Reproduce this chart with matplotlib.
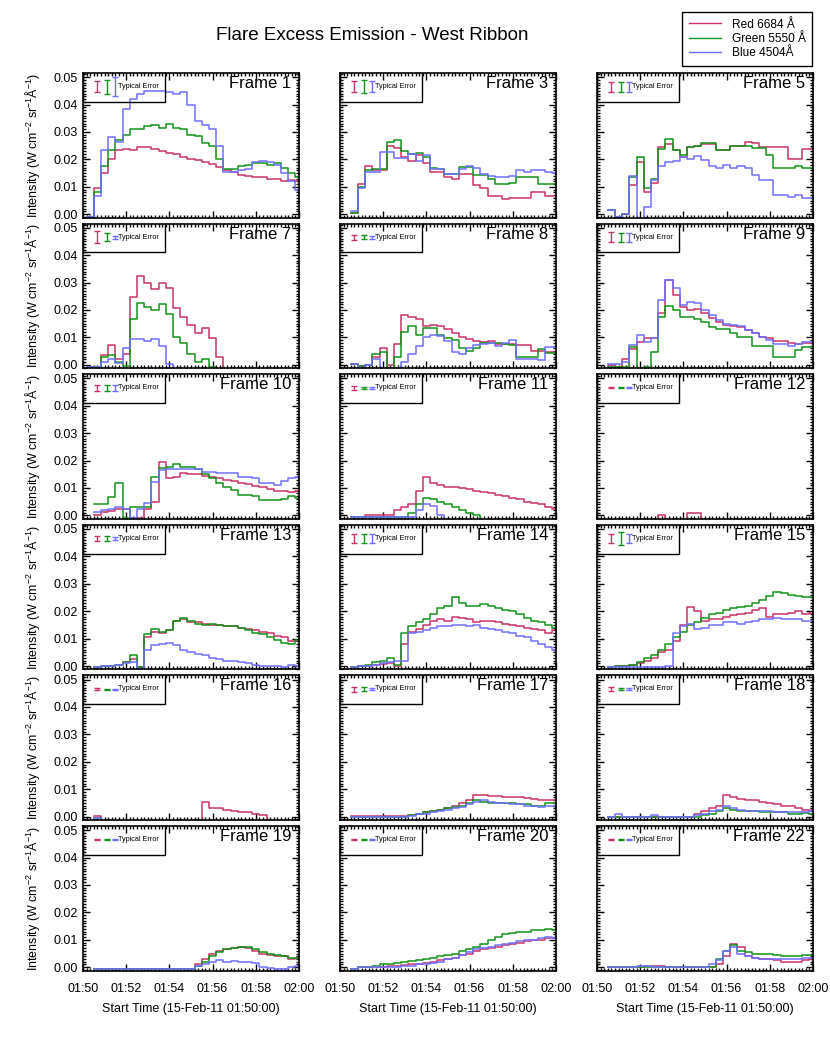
import numpy as np
import matplotlib
matplotlib.use('Agg')
import matplotlib.pyplot as plt
from matplotlib.patches import Rectangle
from matplotlib.lines import Line2D
from matplotlib.ticker import MultipleLocator, FixedLocator, FormatStrFormatter

plt.rcParams['font.family'] = ['Liberation Sans', 'DejaVu Sans']
plt.rcParams['mathtext.default'] = 'regular'

N = np.nan

# ---------------- data (intensity per 20-s bin, W cm^-2 sr^-1 A^-1) ----------------
F1_RED = [-0.001, 0.0095, 0.015, 0.020, 0.0234, 0.0237, 0.0234, 0.0244, 0.0244, 0.0237, 0.0232, 0.0224, 0.0218, 0.021, 0.020, 0.0198, 0.019, 0.0183, 0.0173, 0.0163, 0.0155, 0.0143, 0.014, 0.0134, 0.0137, 0.013, 0.0128, 0.012, 0.0125, 0.012]
F1_GREEN = [-0.001, 0.0082, 0.0175, 0.0235, 0.027, 0.029, 0.031, 0.031, 0.032, 0.0325, 0.0315, 0.033, 0.0315, 0.031, 0.029, 0.0285, 0.026, 0.025, 0.020, 0.0165, 0.0165, 0.0175, 0.018, 0.0185, 0.0185, 0.018, 0.0185, 0.017, 0.015, 0.0135]
F1_BLUE = [-0.001, 0.0065, 0.0235, 0.028, 0.0265, 0.0385, 0.042, 0.044, 0.045, 0.045, 0.045, 0.0445, 0.044, 0.0445, 0.040, 0.034, 0.0325, 0.031, 0.025, 0.0155, 0.0155, 0.016, 0.0165, 0.019, 0.0195, 0.019, 0.018, 0.015, 0.012, 0.009]

F3_RED = [N, 0.0005, 0.011, 0.0175, 0.016, 0.016, 0.025, 0.024, 0.021, 0.0195, 0.0215, 0.0185, 0.0155, 0.0155, 0.0137, 0.013, 0.0145, 0.0145, 0.0105, 0.0095, 0.0068, 0.0066, 0.0055, 0.006, 0.006, 0.006, 0.0082, 0.0082, 0.0065, 0.0065]
F3_GREEN = [N, 0.0005, 0.010, 0.016, 0.0165, 0.0165, 0.0265, 0.027, 0.023, 0.022, 0.0225, 0.021, 0.0167, 0.0165, 0.0145, 0.0145, 0.0173, 0.0173, 0.0143, 0.0143, 0.013, 0.011, 0.011, 0.0115, 0.0134, 0.0134, 0.0134, 0.0112, 0.0112, 0.0112]
F3_BLUE = [N, 0.001, 0.0095, 0.0155, 0.0155, 0.0228, 0.0228, 0.0205, 0.0205, 0.022, 0.0195, 0.0215, 0.0165, 0.0165, 0.0145, 0.0145, 0.0165, 0.0175, 0.0168, 0.0145, 0.014, 0.0135, 0.0135, 0.014, 0.016, 0.0155, 0.016, 0.016, 0.0155, 0.015]

F5_RED = [N, 0.0017, -0.001, 0.0, 0.0105, 0.019, 0.008, 0.0115, 0.0245, 0.0255, 0.0235, 0.021, 0.0245, 0.025, 0.0255, 0.0255, 0.0235, 0.0235, 0.025, 0.025, 0.0265, 0.0258, 0.0245, 0.0245, 0.0245, 0.0245, 0.020, 0.020, 0.0237, 0.0237]
F5_GREEN = [N, 0.0017, -0.001, 0.0, 0.0137, 0.021, 0.0095, 0.0127, 0.0237, 0.0275, 0.0234, 0.0216, 0.0244, 0.025, 0.026, 0.026, 0.0235, 0.0235, 0.025, 0.025, 0.025, 0.0242, 0.0242, 0.0216, 0.017, 0.017, 0.0168, 0.0175, 0.017, 0.017]
F5_BLUE = [N, 0.0015, -0.001, 0.0, 0.014, -0.003, 0.0027, 0.0125, 0.0176, 0.019, 0.0195, 0.0207, 0.020, 0.0212, 0.0197, 0.0176, 0.017, 0.018, 0.017, 0.0176, 0.0167, 0.0143, 0.0124, 0.0124, 0.007, 0.007, 0.0063, 0.007, 0.0058, 0.0058]

F7_RED = [-0.0008, -0.0008, 0.0035, 0.0074, 0.0023, 0.004, 0.0246, 0.0325, 0.030, 0.0275, 0.030, 0.028, 0.0206, 0.0173, 0.0145, 0.0115, 0.0133, 0.0096, 0.003] + [-0.01] * 11
F7_GREEN = [-0.0008, -0.0008, 0.003, 0.0036, 0.001, -0.0005, 0.0167, 0.0224, 0.021, 0.020, 0.022, 0.0184, 0.0102, 0.0078, 0.0041, 0.001, 0.0023, -0.0007] + [-0.01] * 12
F7_BLUE = [-0.0008, -0.0008, 0.001, 0.0023, 0.0005, 0.006, 0.0093, 0.0093, 0.0088, 0.0093, 0.0068, 0.0002] + [-0.01] * 18

F8_RED = [N, 0.0003, -0.0005, 0.0, 0.003, 0.006, 0.0, 0.0075, 0.018, 0.0175, 0.0167, 0.014, 0.0147, 0.014, 0.013, 0.0115, 0.010, 0.0093, 0.0088, 0.0085, 0.0088, 0.0075, 0.0075, 0.0075, 0.0072, 0.0072, 0.0051, 0.0051, 0.0045, 0.0045]
F8_GREEN = [N, 0.0003, -0.0005, 0.0, 0.0041, 0.0048, -0.001, 0.0027, 0.012, 0.014, 0.011, 0.0133, 0.0133, 0.011, 0.0096, 0.0092, 0.0063, 0.0051, 0.006, 0.008, 0.008, 0.0078, 0.0075, 0.0072, 0.0027, 0.0027, 0.0027, 0.0056, 0.0044, 0.0044]
F8_BLUE = [N, 0.0003, -0.002, 0.0, 0.002, -0.002, -0.002, -0.001, 0.001, 0.004, 0.007, 0.010, 0.011, 0.0105, 0.0088, 0.0048, 0.004, 0.006, 0.0072, 0.0075, 0.008, 0.0068, 0.008, 0.009, 0.0023, 0.0023, 0.0023, 0.0017, 0.0066, 0.0066]

F9_RED = [N, 0.0, -0.0008, 0.002, 0.0056, 0.0084, 0.0096, 0.0096, 0.0188, 0.031, 0.0255, 0.021, 0.020, 0.0205, 0.0188, 0.017, 0.0157, 0.0145, 0.0143, 0.0137, 0.0127, 0.0115, 0.0102, 0.0098, 0.0088, 0.0088, 0.008, 0.0076, 0.0078, 0.008]
F9_GREEN = [N, -0.0008, -0.0008, -0.0008, 0.0066, -0.005, -0.0008, 0.0048, 0.0176, 0.0215, 0.020, 0.0176, 0.0176, 0.0166, 0.0157, 0.0137, 0.013, 0.013, 0.0115, 0.0102, 0.0102, 0.0068, 0.0068, 0.0068, 0.0027, 0.0027, 0.0027, 0.0054, 0.0066, 0.0066]
F9_BLUE = [N, 0.0003, 0.0003, 0.001, 0.0072, 0.011, 0.0084, 0.0096, 0.0237, 0.031, 0.028, 0.0218, 0.023, 0.0225, 0.020, 0.018, 0.0163, 0.0149, 0.0145, 0.014, 0.0128, 0.0115, 0.0102, 0.009, 0.0076, 0.0076, 0.0068, 0.0076, 0.0084, 0.0084]

F10_RED = [N, 0.0003, 0.0013, 0.0017, 0.0022, 0.0025, -0.0008, -0.0008, 0.0025, 0.005, 0.0196, 0.0135, 0.014, 0.0154, 0.015, 0.015, 0.0145, 0.014, 0.0135, 0.013, 0.0125, 0.012, 0.0115, 0.0108, 0.0102, 0.0098, 0.0088, 0.0088, 0.0085, 0.009]
F10_GREEN = [N, 0.004, 0.004, 0.0068, 0.0117, -0.0008, 0.0032, 0.003, 0.0032, 0.0139, 0.0172, 0.0175, 0.0187, 0.0175, 0.0178, 0.0168, 0.015, 0.0135, 0.012, 0.0105, 0.0093, 0.0074, 0.0074, 0.0072, 0.0056, 0.0056, 0.0056, 0.006, 0.007, 0.0065]
F10_BLUE = [N, 0.0013, 0.002, 0.0022, 0.0032, 0.0022, -0.0008, 0.0022, 0.0044, 0.0123, 0.0166, 0.0168, 0.0168, 0.017, 0.017, 0.017, 0.016, 0.016, 0.0154, 0.0154, 0.0154, 0.0141, 0.0141, 0.0138, 0.0117, 0.0117, 0.0112, 0.0125, 0.0135, 0.014]

F11_RED = [N, -0.0005, -0.0005, 0.0, 0.0, 0.0, 0.0, 0.002, 0.003, 0.004, 0.009, 0.014, 0.012, 0.011, 0.0105, 0.0105, 0.010, 0.0095, 0.009, 0.0085, 0.008, 0.0075, 0.007, 0.0065, 0.006, 0.005, 0.0045, 0.004, 0.003, 0.0025]
F11_GREEN = [N] + [-0.0005] * 8 + [0.001, 0.004, 0.0065, 0.006, 0.005, 0.004, 0.003, 0.002, 0.001, 0.0] + [-0.01] * 11
F11_BLUE = [N] + [-0.0005] * 9 + [0.002, 0.004, 0.0035, 0.0] + [-0.01] * 16

F12_RED = [N] + [-0.003] * 7 + [0.0003] + [-0.003] * 3 + [0.0008, 0.0008] + [-0.003] * 16
F12_GREEN = [N] + [-0.003] * 29
F12_BLUE = [N] + [-0.003] * 29

F13_RED = [N, -0.0005, 0.0, 0.0, 0.0005, 0.0015, 0.0025, -0.0005, 0.0105, 0.0125, 0.012, 0.013, 0.0165, 0.017, 0.016, 0.016, 0.0155, 0.015, 0.015, 0.0145, 0.0145, 0.014, 0.0135, 0.013, 0.0125, 0.012, 0.011, 0.0105, 0.009, 0.009]
F13_GREEN = [N, -0.0005, 0.0, 0.0, 0.0005, 0.0015, 0.004, -0.0005, 0.0115, 0.0135, 0.0125, 0.013, 0.0165, 0.0175, 0.0165, 0.0155, 0.015, 0.0155, 0.015, 0.0145, 0.0145, 0.014, 0.013, 0.012, 0.0115, 0.0105, 0.0095, 0.0085, 0.008, 0.0095]
F13_BLUE = [N, -0.0005, 0.0, 0.0, 0.0003, 0.001, 0.0015, -0.001, 0.006, 0.0075, 0.008, 0.0085, 0.0075, 0.006, 0.005, 0.0045, 0.004, 0.003, 0.0025, 0.002, 0.002, 0.0015, 0.001, 0.0005, 0.0, 0.0, 0.0, -0.0005, 0.0005, 0.0]

F14_RED = [N, -0.0005, 0.0, 0.0, 0.0005, 0.0008, 0.001, 0.0, 0.008, 0.0125, 0.0135, 0.015, 0.0165, 0.017, 0.0165, 0.018, 0.0175, 0.017, 0.016, 0.0165, 0.0165, 0.016, 0.0155, 0.015, 0.0145, 0.014, 0.0135, 0.013, 0.012, 0.013]
F14_GREEN = [N, -0.0005, 0.0, 0.0005, 0.0015, 0.002, 0.003, 0.0005, 0.012, 0.0145, 0.016, 0.017, 0.019, 0.021, 0.022, 0.025, 0.023, 0.022, 0.022, 0.0225, 0.022, 0.021, 0.0205, 0.020, 0.019, 0.0175, 0.0165, 0.016, 0.015, 0.014]
F14_BLUE = [N, -0.0005, 0.0, 0.0, 0.0005, 0.001, 0.0015, 0.002, 0.002, 0.012, 0.0125, 0.013, 0.014, 0.0145, 0.0145, 0.015, 0.015, 0.0145, 0.015, 0.014, 0.0135, 0.013, 0.0125, 0.012, 0.011, 0.0105, 0.009, 0.008, 0.007, 0.006]

F15_RED = [N, -0.0005, 0.0, 0.0, 0.0003, 0.001, 0.002, 0.003, 0.005, 0.006, 0.009, 0.015, 0.0215, 0.020, 0.0165, 0.017, 0.017, 0.018, 0.0185, 0.019, 0.0195, 0.0205, 0.021, 0.018, 0.019, 0.019, 0.0195, 0.020, 0.019, 0.0195]
F15_GREEN = [N, -0.0005, 0.0, 0.0, 0.0005, 0.0015, 0.003, 0.004, 0.006, 0.008, 0.0105, 0.0125, 0.015, 0.016, 0.0175, 0.019, 0.0195, 0.0205, 0.021, 0.0215, 0.022, 0.023, 0.024, 0.0255, 0.027, 0.0265, 0.026, 0.0255, 0.025, 0.025]
F15_BLUE = [N] + [-0.0005] * 8 + [0.0, 0.012, 0.0145, 0.0155, 0.0135, 0.014, 0.015, 0.015, 0.016, 0.016, 0.0155, 0.016, 0.0165, 0.017, 0.017, 0.0175, 0.017, 0.017, 0.017, 0.0165, 0.0165]

F16_RED = [N, 0.0003] + [-0.003] * 14 + [0.0055, 0.003, 0.003, 0.0025, 0.002, 0.0018, 0.0015, 0.001, 0.0005] + [-0.003] * 5
F16_GREEN = [N, -0.0005] + [-0.003] * 28
F16_BLUE = [N, -0.0005] + [-0.003] * 28

F17_RED = [N] + [0.0002] * 8 + [0.0005, 0.001, 0.0015, 0.002, 0.0025, 0.003, 0.004, 0.005, 0.006, 0.008, 0.0078, 0.0075, 0.0075, 0.007, 0.007, 0.007, 0.0068, 0.0065, 0.006, 0.0062, 0.0062]
F17_GREEN = [N] + [0.0] * 8 + [0.0005, 0.001, 0.0015, 0.002, 0.0025, 0.003, 0.0035, 0.004, 0.005, 0.006, 0.0055, 0.005, 0.005, 0.005, 0.005, 0.0045, 0.0045, 0.004, 0.004, 0.0048, 0.005]
F17_BLUE = [N] + [-0.0002] * 8 + [0.0003, 0.0008, 0.001, 0.0015, 0.002, 0.0025, 0.003, 0.0035, 0.0045, 0.0055, 0.006, 0.0055, 0.005, 0.005, 0.0045, 0.0045, 0.004, 0.004, 0.0035, 0.004, 0.004]

F18_RED = [N] + [-0.0003] * 12 + [0.001, 0.002, 0.003, 0.004, 0.008, 0.007, 0.0065, 0.006, 0.006, 0.0055, 0.005, 0.0045, 0.004, 0.004, 0.003, 0.0025, 0.0025]
F18_GREEN = [N] + [0.0] * 13 + [0.0005, 0.001, 0.002, 0.003, 0.0025, 0.002, 0.002, 0.002, 0.0018, 0.0015, 0.0015, 0.0015, 0.001, 0.001, 0.0012, 0.001]
F18_BLUE = [N, 0.0, 0.001, 0.0, 0.0, 0.0, 0.0, 0.0005, 0.0, 0.0, 0.0, 0.0, 0.0, 0.0005, 0.001, 0.002, 0.0025, 0.004, 0.003, 0.0025, 0.002, 0.002, 0.002, 0.002, 0.0018, 0.0015, 0.0015, 0.0015, 0.0018, 0.002]

F19_RED = [N] + [-0.0005] * 14 + [0.001, 0.003, 0.005, 0.006, 0.0065, 0.007, 0.0072, 0.007, 0.006, 0.005, 0.0045, 0.004, 0.004, 0.003, 0.0035]
F19_GREEN = [N] + [-0.0005] * 14 + [0.0005, 0.002, 0.004, 0.0055, 0.0065, 0.007, 0.0075, 0.0075, 0.0065, 0.0055, 0.005, 0.0045, 0.004, 0.0035, 0.0035]
F19_BLUE = [N] + [-0.0005] * 14 + [0.0005, 0.001, 0.002, 0.0025, 0.002, 0.0022, 0.002, 0.002, 0.0015, 0.0, -0.0003, -0.0005, -0.0005, 0.0, 0.0005]

F20_RED = [N, -0.0005, 0.0, 0.0, 0.0, 0.0, 0.0003, 0.0005, 0.0008, 0.001, 0.0012, 0.0015, 0.002, 0.0025, 0.003, 0.0035, 0.0045, 0.005, 0.006, 0.0065, 0.007, 0.0075, 0.008, 0.0085, 0.009, 0.0095, 0.010, 0.010, 0.0105, 0.0105]
F20_GREEN = [N, -0.0005, 0.0, 0.0, 0.0005, 0.001, 0.0012, 0.0015, 0.002, 0.0022, 0.0025, 0.003, 0.0035, 0.004, 0.0045, 0.005, 0.006, 0.0065, 0.0075, 0.0085, 0.010, 0.011, 0.012, 0.0125, 0.013, 0.013, 0.0135, 0.0135, 0.014, 0.0135]
F20_BLUE = [N, -0.0005, 0.0, 0.0, 0.0, 0.0, 0.0, 0.0, 0.0003, 0.0005, 0.001, 0.0012, 0.0015, 0.002, 0.003, 0.0035, 0.0045, 0.0055, 0.0065, 0.007, 0.0075, 0.008, 0.0085, 0.009, 0.0095, 0.010, 0.010, 0.0105, 0.011, 0.0105]

F22_RED = [N, 0.0, 0.0, 0.0, 0.0, 0.0, 0.0005, 0.0005, 0.0005, 0.0, 0.0, 0.0, 0.0, 0.0, 0.0, 0.0, 0.001, 0.004, 0.0085, 0.0075, 0.004, 0.0035, 0.003, 0.003, 0.0025, 0.002, 0.002, 0.002, 0.0025, 0.003]
F22_GREEN = [N] + [0.0] * 15 + [0.003, 0.006, 0.008, 0.006, 0.0055, 0.005, 0.005, 0.005, 0.0045, 0.004, 0.004, 0.004, 0.0045, 0.0045]
F22_BLUE = [N, 0.0, 0.0, 0.0, 0.0, 0.0005, 0.0005, 0.0, 0.0, 0.0, 0.0, 0.0, 0.0, 0.0, 0.0, 0.001, 0.0025, 0.006, 0.0075, 0.005, 0.004, 0.0035, 0.003, 0.003, 0.003, 0.003, 0.003, 0.003, 0.0035, 0.0035]

FRAME_NAMES = ['Frame 1', 'Frame 3', 'Frame 5', 'Frame 7', 'Frame 8', 'Frame 9',
               'Frame 10', 'Frame 11', 'Frame 12', 'Frame 13', 'Frame 14', 'Frame 15',
               'Frame 16', 'Frame 17', 'Frame 18', 'Frame 19', 'Frame 20', 'Frame 22']

# typical error (half-length) per frame
ERR_RED = [0.0021, 0.0021, 0.0018, 0.0022, 0.0009, 0.0018, 0.001, 0.0007, 0.0002,
           0.001, 0.0015, 0.0018, 0.0003, 0.0009, 0.0007, 0.0002, 0.0002, 0.0002]
ERR_GREEN = [0.0026, 0.0023, 0.0018, 0.0015, 0.0007, 0.0016, 0.001, 0.0003, 0.0002,
             0.0009, 0.0015, 0.0022, 0.0002, 0.0006, 0.0003, 0.0002, 0.0002, 0.0002]
ERR_BLUE = [0.0034, 0.0021, 0.0018, 0.0006, 0.0006, 0.0016, 0.001, 0.0003, 0.0002,
            0.0007, 0.0015, 0.0018, 0.0002, 0.0005, 0.0003, 0.0002, 0.0002, 0.0002]

XTICK_POS = [0, 2, 4, 6, 8, 10]
XTICK_LABELS = ['01:50', '01:52', '01:54', '01:56', '01:58', '02:00']
LEGEND_LABELS = ['Red 6684 \u00c5', 'Green 5550 \u00c5', 'Blue 4504\u00c5']
BIN_START = 1 / 6      # minutes after 01:50:00
BIN_WIDTH = 1 / 3      # 20 s

RED = '#cc3366'
GREEN = '#12931a'
BLUE = '#6f6fff'

SERIES = [
    (F1_RED, F1_GREEN, F1_BLUE), (F3_RED, F3_GREEN, F3_BLUE), (F5_RED, F5_GREEN, F5_BLUE),
    (F7_RED, F7_GREEN, F7_BLUE), (F8_RED, F8_GREEN, F8_BLUE), (F9_RED, F9_GREEN, F9_BLUE),
    (F10_RED, F10_GREEN, F10_BLUE), (F11_RED, F11_GREEN, F11_BLUE), (F12_RED, F12_GREEN, F12_BLUE),
    (F13_RED, F13_GREEN, F13_BLUE), (F14_RED, F14_GREEN, F14_BLUE), (F15_RED, F15_GREEN, F15_BLUE),
    (F16_RED, F16_GREEN, F16_BLUE), (F17_RED, F17_GREEN, F17_BLUE), (F18_RED, F18_GREEN, F18_BLUE),
    (F19_RED, F19_GREEN, F19_BLUE), (F20_RED, F20_GREEN, F20_BLUE), (F22_RED, F22_GREEN, F22_BLUE),
]

# ---------------- figure ----------------
W, H = 830, 1038
fig = plt.figure(figsize=(W / 100, H / 100), dpi=100)
col_left = [83, 340, 597]
row_top = [73, 223.6, 374.2, 524.8, 675.4, 826]
aw, ah = 216, 144.5

nbins = len(F1_RED)
edges = BIN_START + BIN_WIDTH * np.arange(nbins + 1)

for i, name in enumerate(FRAME_NAMES):
    row, col = divmod(i, 3)
    ax = fig.add_axes([col_left[col] / W, 1 - (row_top[row] + ah) / H, aw / W, ah / H])
    for vals, c in zip(SERIES[i], (RED, GREEN, BLUE)):
        v = np.asarray(vals, dtype=float)
        ax.step(edges, np.append(v, v[-1]), where='post', color=c, lw=1.1)

    ax.set_xlim(0, 10)
    ax.set_ylim(-0.0012, 0.0515)

    # "Typical Error" box
    ax.add_patch(Rectangle((0, 0.041), 3.8, 0.02, fill=False, ec='black', lw=1.0,
                           zorder=5))
    for xe, err, c in zip((0.66, 1.1, 1.48),
                          (ERR_RED[i], ERR_GREEN[i], ERR_BLUE[i]),
                          (RED, GREEN, BLUE)):
        ax.errorbar([xe], [0.0465], yerr=[err], color=c, lw=1.0, capsize=2.2,
                    capthick=1.0, fmt='none', zorder=6)
    ax.text(1.63, 0.0466, 'Typical Error', fontsize=5.2, ha='left', va='center', zorder=6)

    ax.text(1 - 8 / aw, 1 - 3 / ah, name, transform=ax.transAxes, ha='right',
            va='top', fontsize=12)

    ax.xaxis.set_major_locator(FixedLocator(XTICK_POS))
    ax.xaxis.set_minor_locator(MultipleLocator(1 / 6))
    ax.yaxis.set_major_locator(MultipleLocator(0.01))
    ax.yaxis.set_minor_locator(MultipleLocator(0.001))
    ax.tick_params(which='both', direction='in', top=True, right=True, labelsize=9,
                   width=1.0)
    ax.tick_params(which='major', length=5)
    ax.tick_params(which='minor', length=2.5)
    ax.tick_params(axis='y', pad=3.5)
    ax.tick_params(axis='x', pad=9)
    for s in ax.spines.values():
        s.set_linewidth(1.2)

    if col == 0:
        ax.yaxis.set_major_formatter(FormatStrFormatter('%.2f'))
        ax.set_ylabel('Intensity (W cm$^{-2}$ sr$^{-1}$\u00c5$^{-1}$)', fontsize=9)
        ax.yaxis.set_label_coords(-0.19, 0.5)
    else:
        ax.set_yticklabels([])

    if row == 5:
        ax.set_xticklabels(XTICK_LABELS)
        ax.set_xlabel('Start Time (15-Feb-11 01:50:00)', fontsize=9, labelpad=6)
    else:
        ax.set_xticklabels([])

fig.text(372 / W, 1 - 35 / H, 'Flare Excess Emission - West Ribbon', ha='center',
         va='center', fontsize=13.5)

handles = [Line2D([], [], color=c, lw=1.0) for c in (RED, GREEN, BLUE)]
leg = fig.legend(handles, LEGEND_LABELS, loc='upper right',
                 bbox_to_anchor=(812 / W, 1 - 12 / H), fontsize=8.6, frameon=True,
                 fancybox=False, edgecolor='black', framealpha=1,
                 handlelength=2.7, handletextpad=0.9, borderpad=0.55,
                 labelspacing=0.2, borderaxespad=0)
leg.get_frame().set_linewidth(1.0)

fig.savefig('out.png', dpi=100)
